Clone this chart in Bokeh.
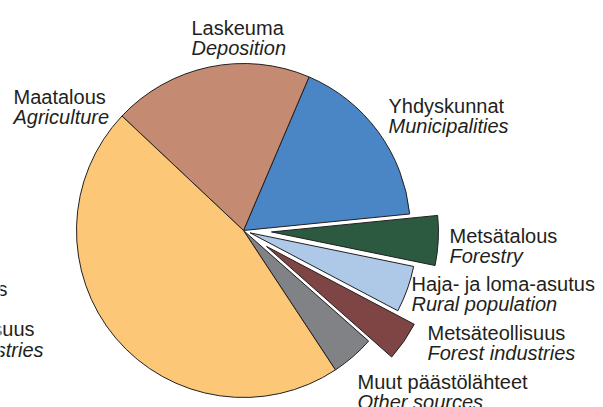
import numpy as np
from bokeh.plotting import figure
from bokeh.models import Range1d, ColumnDataSource
from bokeh.core.properties import value
from bokeh.embed import file_html
from bokeh.resources import INLINE

# Load shares by source (%), counterclockwise from "Other sources"
sources_fi = ["Muut päästölähteet", "Metsäteollisuus", "Haja- ja loma-asutus",
              "Metsätalous", "Yhdyskunnat", "Laskeuma", "Maatalous"]
sources_en = ["Other sources", "Forest industries", "Rural population",
              "Forestry", "Municipalities", "Deposition", "Agriculture"]
shares = [4.2, 3.8, 4.5, 4.8, 17.0, 19.4, 46.3]

colors = ["#808285", "#7F4544", "#AEC8E8", "#2C5A41", "#4A86C5", "#C48B72", "#FCC877"]
explode = [0, 28, 7, 28, 0, 0, 0]          # px pulled out from the centre
label_pos = [(357, 381), (427, 332), (411, 283), (449, 235),
             (388, 105), (191, 27), (13, 96)]  # left x, first baseline (page px, from top)

W, H = 603, 407
CX, CY, R = 243, 230, 167
START_DEG = -56.6
LINE_GAP = 20
FONT = "Liberation Sans"
FSIZE = "20px"

p = figure(width=W, height=H, output_backend="svg", toolbar_location=None,
           x_range=Range1d(0, W), y_range=Range1d(0, H),
           min_border=0, outline_line_color=None, background_fill_color="white")
p.axis.visible = False
p.grid.visible = False

vals = np.array(shares, dtype=float)
ends = np.radians(START_DEG) + np.cumsum(vals) / vals.sum() * 2 * np.pi
starts = np.concatenate([[np.radians(START_DEG)], ends[:-1]])
mids = (starts + ends) / 2
ex = np.array(explode, dtype=float)
xs = CX + ex * np.cos(mids)
ys = (H - CY) + ex * np.sin(mids)

src = ColumnDataSource(dict(x=xs, y=ys, start=starts, end=ends, color=colors))
p.wedge(x="x", y="y", radius=R, start_angle="start", end_angle="end",
        fill_color="color", line_color="#231F20", line_width=1, source=src)

# slice labels: Finnish upright, English italic below
lx = [pos[0] for pos in label_pos]
ly = [H - pos[1] for pos in label_pos]
p.text(x=lx, y=ly, text=sources_fi, text_font=value(FONT), text_font_size=FSIZE,
       text_color="#231F20", text_baseline="alphabetic", text_align="left")
p.text(x=lx, y=[v - LINE_GAP for v in ly], text=sources_en, text_font=value(FONT),
       text_font_size=FSIZE, text_font_style="italic", text_color="#231F20",
       text_baseline="alphabetic", text_align="left")

# neighbouring panel's labels, cut by the left edge
p.text(x=[7, 34], y=[H - 288, H - 328], text=["Metsätalous", "Metsäteollisuus"],
       text_font=value(FONT), text_font_size=FSIZE, text_color="#231F20",
       text_baseline="alphabetic", text_align="right")
p.text(x=[43], y=[H - 349], text=["Forest industries"], text_font=value(FONT),
       text_font_size=FSIZE, text_font_style="italic", text_color="#231F20",
       text_baseline="alphabetic", text_align="right")

open("out.html", "w").write(file_html(p, INLINE))
